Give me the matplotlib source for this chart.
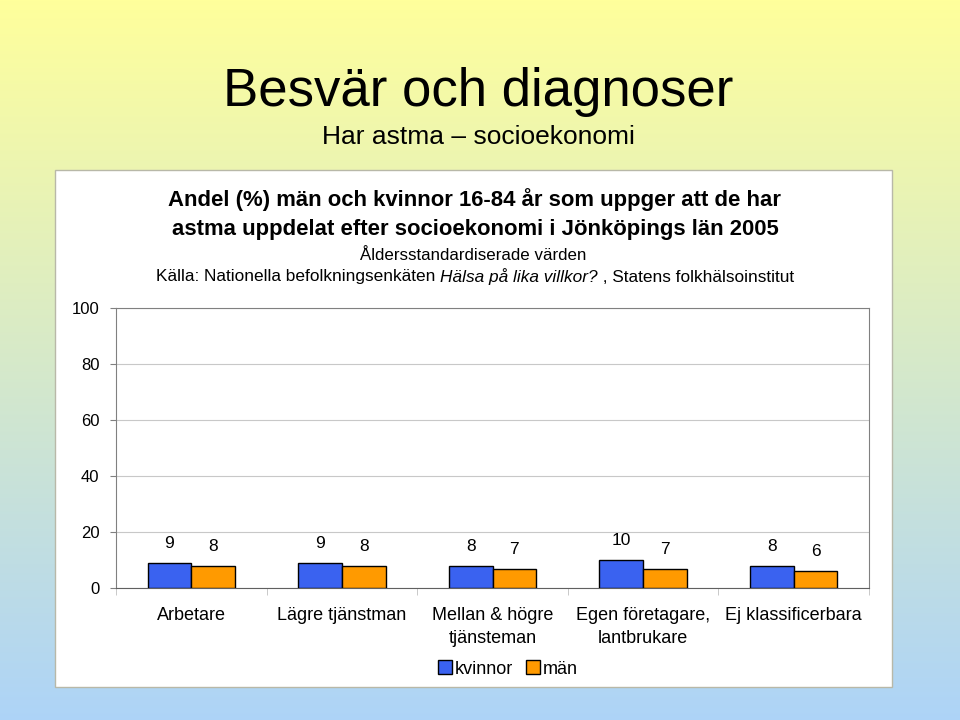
import numpy as np
import matplotlib
matplotlib.use("Agg")
import matplotlib.pyplot as plt
from matplotlib.patches import Rectangle, Patch

plt.rcParams['font.family'] = ['Liberation Sans', 'DejaVu Sans']

# data
kategorier = ["Arbetare", "Lägre tjänstman", "Mellan & högre\ntjänsteman",
              "Egen företagare,\nlantbrukare", "Ej klassificerbara"]
kvinnor = [8.9, 8.9, 7.9, 10.0, 7.9]
man = [7.9, 7.9, 6.8, 6.8, 6.1]
kvinnor_txt = ["9", "9", "8", "10", "8"]
man_txt = ["8", "8", "7", "7", "6"]
y_ticks = [0, 20, 40, 60, 80, 100]

BLA = "#3a62f0"
ORANGE = "#ff9a00"

fig = plt.figure(figsize=(9.6, 7.2), dpi=100)

# bakgrund med gradient gul -> ljusbla
bg = fig.add_axes([0, 0, 1, 1], zorder=-10)
topp = np.array([1.0, 1.0, 0.61])
botten = np.array([0.68, 0.83, 0.97])
t = np.linspace(0, 1, 256)[:, None]
grad = topp * (1 - t) + botten * t
bg.imshow(grad[:, None, :].repeat(2, axis=1), aspect="auto", extent=[0, 1, 0, 1])
bg.set_xlim(0, 1)
bg.set_ylim(0, 1)
bg.axis("off")

# vit panel
W, H = 960, 720
panel = Rectangle((55 / W, 1 - 687 / H), (892 - 55) / W, (687 - 170) / H,
                  transform=fig.transFigure, facecolor="white",
                  edgecolor="#b8b8a8", linewidth=1.0, zorder=-5)
fig.patches.append(panel)

fig.text(478 / W, 1 - 92 / H, "Besvär och diagnoser", fontsize=38,
         ha="center", va="center")
fig.text(478 / W, 1 - 137 / H, "Har astma \u2013 socioekonomi", fontsize=19,
         ha="center", va="center")

fig.text(475 / W, 1 - 214 / H,
         "Andel (%) män och kvinnor 16-84 år som uppger att de har\n"
         "astma uppdelat efter socioekonomi i Jönköpings län 2005",
         fontsize=15.9, fontweight="bold", ha="center", va="center",
         linespacing=1.45)
fig.text(473 / W, 1 - 255 / H, "Åldersstandardiserade värden", fontsize=12.2,
         ha="center", va="center")

# kallraden med kursiv del
delar = [("Källa: Nationella befolkningsenkäten ", "normal"),
         ("Hälsa på lika villkor?", "italic"),
         (" , Statens folkhälsoinstitut", "normal")]
fig.canvas.draw()
r = fig.canvas.get_renderer()
texter = []
bredd = 0
for s, stil in delar:
    tx = fig.text(0, 1 - 277 / H, s, fontsize=12.4, style=stil,
                  ha="left", va="center")
    bb = tx.get_window_extent(renderer=r)
    texter.append((tx, bb.width))
    bredd += bb.width
x0 = 475 - bredd / 2
for tx, w in texter:
    tx.set_x(x0 / W)
    x0 += w

# diagram
ax = fig.add_axes([116 / W, 1 - 588 / H, (869 - 116) / W, (588 - 308) / H])
x = np.arange(len(kategorier))
bw = 0.29
b1 = ax.bar(x - bw / 2, kvinnor, bw, color=BLA, edgecolor="black", linewidth=1.0, zorder=3)
b2 = ax.bar(x + bw / 2, man, bw, color=ORANGE, edgecolor="black", linewidth=1.0, zorder=3)

for rects, txts in ((b1, kvinnor_txt), (b2, man_txt)):
    for rect, s in zip(rects, txts):
        ax.annotate(s, (rect.get_x() + rect.get_width() / 2, rect.get_height()),
                    xytext=(0, 14), textcoords="offset points",
                    ha="center", va="center", fontsize=12.5)

ax.set_xlim(-0.5, len(kategorier) - 0.5)
ax.set_ylim(0, 100)
ax.set_yticks(y_ticks)
ax.set_yticklabels([str(v) for v in y_ticks], fontsize=12)
ax.tick_params(axis="y", length=4, color="#808080", pad=8)
ax.set_xticks(x)
ax.set_xticklabels(kategorier, fontsize=13, linespacing=1.45)
ax.tick_params(axis="x", length=0, pad=14)
ax.set_xticks(np.arange(len(kategorier) + 1) - 0.5, minor=True)
ax.tick_params(axis="x", which="minor", length=5, color="#c0c0c0", direction="out")
ax.grid(axis="y", color="#c8c8c8", linewidth=0.8, zorder=0)
for sp in ("left", "right", "top"):
    ax.spines[sp].set_color("#808080")
ax.spines["bottom"].set_color("#606060")

handles = [Patch(facecolor=BLA, edgecolor="black"),
           Patch(facecolor=ORANGE, edgecolor="black")]
fig.legend(handles, ["kvinnor", "män"], loc="center", ncol=2,
           bbox_to_anchor=(508 / W, 1 - 669 / H), frameon=False, fontsize=13,
           handlelength=0.8, handleheight=0.8, handletextpad=0.15,
           columnspacing=0.7)

fig.savefig("out.png", dpi=100)
